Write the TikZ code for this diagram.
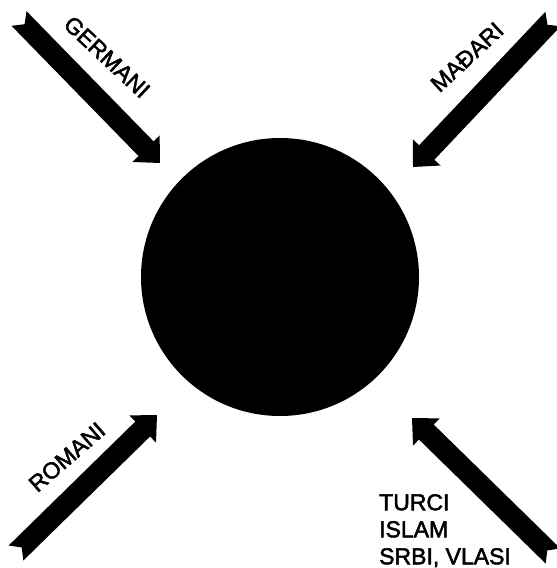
\documentclass[tikz,border=0pt]{standalone}
\usepackage{fontspec}
\setmainfont{Liberation Sans}
\newfontfamily\lblfont[FakeBold=2.2]{Liberation Sans}
\usetikzlibrary{calc}
\tikzset{
  arrowfill/.style={fill=black},
  lbl/.style={inner sep=0pt, font=\lblfont\fontsize{23}{27}\selectfont},
  core/.style={circle, fill=black, inner sep=0pt, minimum size=278pt}
}
% #1 tail coordinate, #2 tip coordinate, #3 prefix for helper coordinates
\newcommand\ribbonarrow[3]{%
  \path ($(#2)!20pt!(#1)$) coordinate (#3h);
  \fill[arrowfill]
    ($(#1)!10.5pt!90:(#2)$) --
    ($(#3h)!10.5pt!90:(#2)$) --
    ($(#3h)!19pt!90:(#2)$) --
    (#2) --
    ($(#3h)!19pt!-90:(#2)$) --
    ($(#3h)!10.5pt!-90:(#2)$) --
    ($(#1)!10.5pt!-90:(#2)$) --
    ($(#1)!8pt!(#2)$) -- cycle;
}
\begin{document}
\begin{tikzpicture}[x=1pt,y=-1pt]
  \useasboundingbox (0,0) rectangle (557,568);
  \begin{scope}
  \clip (0,0) rectangle (557,568);
  \node[core] (c) at (280,277) {};
  % arrow tails and tips
  \coordinate (gT) at (19,18.5);
  \coordinate (gH) at (160,163);
  \coordinate (mT) at (553,19);
  \coordinate (mH) at (413,167);
  \coordinate (rT) at (16,553);
  \coordinate (rH) at (157,415);
  \coordinate (tT) at (553,556);
  \coordinate (tH) at (412,418);
  \ribbonarrow{gT}{gH}{g}
  \ribbonarrow{mT}{mH}{m}
  \ribbonarrow{rT}{rH}{r}
  \ribbonarrow{tT}{tH}{t}
  \end{scope}
  % labels
  \node[lbl, rotate=-43] (germani) at (107,57) {GERMANI};
  \node[lbl, rotate=43] (madari) at (467,57) {MAĐARI};
  \node[lbl, rotate=41] (romani) at (67,457) {ROMANI};
  \node[lbl, anchor=north west, align=left] (turci) at (379,494)
    {TURCI\\ISLAM\\SRBI, VLASI};
\end{tikzpicture}
\end{document}
